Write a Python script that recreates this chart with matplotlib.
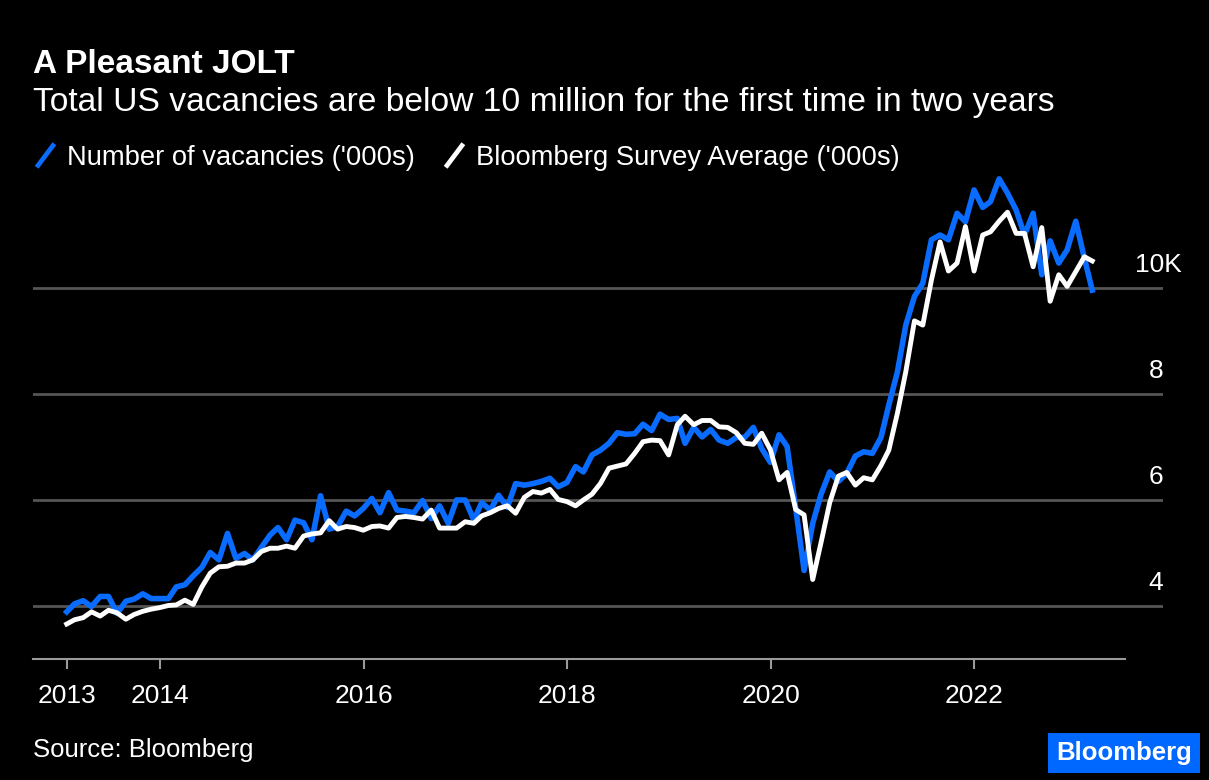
import numpy as np
import pandas as pd
import matplotlib
matplotlib.use("Agg")
import matplotlib.pyplot as plt
import matplotlib.dates as mdates
from matplotlib.lines import Line2D
from matplotlib.patches import Rectangle
import matplotlib.transforms as mtransforms

plt.rcParams["font.family"] = ["Liberation Sans", "DejaVu Sans"]

# monthly JOLTS openings vs Bloomberg survey, millions (month-end dates)
months = pd.date_range("2013-01-31", periods=122, freq="ME")

vacancies = [
    3.89, 4.04, 4.10, 3.99, 4.18, 4.18, 3.86, 4.09, 4.13, 4.23, 4.14, 4.14,
    4.14, 4.36, 4.40, 4.57, 4.73, 5.01, 4.87, 5.37, 4.90, 4.99, 4.87, 5.11,
    5.34, 5.48, 5.25, 5.62, 5.57, 5.25, 6.08, 5.45, 5.50, 5.79, 5.70, 5.84,
    6.03, 5.76, 6.14, 5.81, 5.79, 5.76, 5.99, 5.65, 5.89, 5.56, 6.00, 6.00,
    5.62, 5.95, 5.81, 6.09, 5.86, 6.31, 6.28, 6.31, 6.35, 6.41, 6.25, 6.33,
    6.63, 6.53, 6.85, 6.94, 7.07, 7.27, 7.24, 7.25, 7.43, 7.31, 7.62, 7.52,
    7.54, 7.07, 7.37, 7.19, 7.33, 7.13, 7.07, 7.18, 7.18, 7.37, 6.97, 6.71,
    7.23, 7.01, 5.85, 4.67, 5.56, 6.11, 6.53, 6.35, 6.50, 6.83, 6.91, 6.88,
    7.18, 7.79, 8.42, 9.30, 9.84, 10.09, 10.91, 11.00, 10.91, 11.41, 11.25, 11.85,
    11.52, 11.63, 12.06, 11.79, 11.47, 11.00, 11.41, 10.25, 10.89, 10.47, 10.72, 11.26,
    10.56, 9.96,
]

survey = [
    3.66, 3.74, 3.78, 3.89, 3.81, 3.92, 3.87, 3.75, 3.84, 3.90, 3.94, 3.97,
    4.01, 4.02, 4.11, 4.03, 4.36, 4.62, 4.74, 4.75, 4.81, 4.81, 4.87, 5.03,
    5.09, 5.09, 5.13, 5.09, 5.32, 5.36, 5.38, 5.61, 5.45, 5.50, 5.48, 5.43,
    5.50, 5.51, 5.47, 5.67, 5.69, 5.67, 5.64, 5.81, 5.47, 5.47, 5.47, 5.59,
    5.56, 5.70, 5.76, 5.84, 5.89, 5.75, 6.05, 6.16, 6.13, 6.20, 6.01, 5.97,
    5.89, 6.00, 6.11, 6.31, 6.60, 6.64, 6.68, 6.88, 7.10, 7.13, 7.12, 6.85,
    7.42, 7.58, 7.42, 7.50, 7.50, 7.38, 7.37, 7.27, 7.07, 7.05, 7.26, 6.95,
    6.38, 6.52, 5.82, 5.72, 4.50, 5.20, 5.95, 6.45, 6.52, 6.28, 6.42, 6.38,
    6.65, 6.94, 7.64, 8.42, 9.38, 9.30, 10.15, 10.87, 10.32, 10.47, 11.16, 10.32,
    11.00, 11.06, 11.26, 11.43, 11.03, 11.03, 10.40, 11.14, 9.75, 10.25, 10.03, 10.31,
    10.59, 10.51,
]

x_ticks = pd.to_datetime(["2013-01-31", "2014-01-01", "2016-01-01",
                          "2018-01-01", "2020-01-01", "2022-01-01"])
x_labels = ["2013", "2014", "2016", "2018", "2020", "2022"]
y_ticks = [4, 6, 8, 10]
y_labels = ["4", "6", "8", "10K"]

BLUE = "#0a6cff"
GRID = "#555555"
AXIS = "#9a9a9a"

W, H = 1209, 780
fig = plt.figure(figsize=(W / 100, H / 100), dpi=100, facecolor="black")
ax = fig.add_axes([33 / W, (H - 659) / H, 1130 / W, (659 - 168.75) / H])
ax.set_facecolor("black")

ax.plot(months, vacancies, color=BLUE, lw=4.0, zorder=3)
ax.plot(months, survey, color="white", lw=3.5, zorder=4)

x_start = mdates.date2num(pd.Timestamp("2012-10-02"))
x_end = mdates.date2num(pd.Timestamp("2023-11-09"))
axis_end = mdates.date2num(pd.Timestamp("2023-06-26"))
ax.set_xlim(x_start, x_end)
ax.set_ylim(3.0, 12.25)

# horizontal gridlines only
ax.set_yticks(y_ticks)
ax.tick_params(axis="y", length=0, labelleft=False, labelright=False)
ax.yaxis.grid(True, color=GRID, lw=2)
ax.set_axisbelow(True)

for s in ["top", "left", "right"]:
    ax.spines[s].set_visible(False)
ax.spines["bottom"].set_color(AXIS)
ax.spines["bottom"].set_linewidth(1.5)
ax.spines["bottom"].set_bounds(x_start, axis_end)

ax.set_xticks(mdates.date2num(x_ticks))
ax.set_xticklabels(x_labels)
ax.tick_params(axis="x", direction="out", length=7, width=1.5, color=AXIS,
               labelcolor="white", labelsize=19, pad=11)

# right-hand value labels sitting above gridlines
ytrans = ax.get_yaxis_transform()
for v, lab in zip(y_ticks, y_labels):
    dx = 19 if lab.endswith("K") else 0
    t = mtransforms.offset_copy(ytrans, fig=fig, x=dx, y=16, units="dots")
    ax.text(1.0, v, lab, transform=t, ha="right", va="baseline",
            color="white", fontsize=19)

# titles
fig.text(33 / W, 1 - 73 / H, "A Pleasant JOLT", color="white", fontsize=24,
         fontweight="bold", va="baseline")
fig.text(33 / W, 1 - 111 / H,
         "Total US vacancies are below 10 million for the first time in two years",
         color="white", fontsize=24.2, va="baseline")

# legend with slash markers
slash = [(-0.75, -1), (0.75, 1)]
handles = [
    Line2D([], [], color=BLUE, marker=slash, ls="None", markersize=17,
           markeredgewidth=3.4, markeredgecolor=BLUE),
    Line2D([], [], color="white", marker=slash, ls="None", markersize=17,
           markeredgewidth=3.4, markeredgecolor="white"),
]
fig.legend(handles, ["Number of vacancies ('000s)", "Bloomberg Survey Average ('000s)"],
           loc="center left", bbox_to_anchor=(31 / W, 1 - 158 / H), ncol=2,
           frameon=False, fontsize=19.7, labelcolor="white", borderpad=0,
           handlelength=1.0, handletextpad=0.33, columnspacing=0.9,
           borderaxespad=0)

fig.text(33 / W, 1 - 757 / H, "Source: Bloomberg", color="white", fontsize=18.5,
         va="baseline")

# Bloomberg badge
fig.add_artist(Rectangle((1048 / W, 1 - 773 / H), 152 / W, 40 / H,
                         transform=fig.transFigure, facecolor="#0068ff",
                         edgecolor="none"))
fig.text(1124 / W, 1 - 753 / H, "Bloomberg", color="white", fontsize=18.5,
         fontweight="bold", ha="center", va="center")

fig.savefig("out.png", dpi=100, facecolor="black")
